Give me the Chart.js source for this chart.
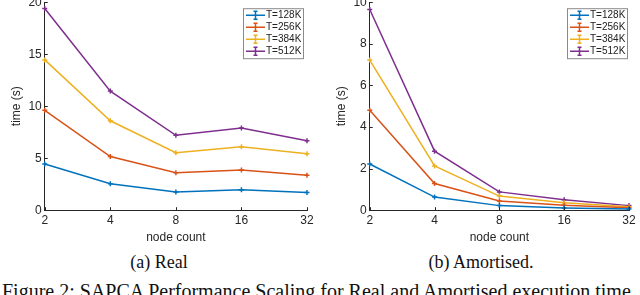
<!DOCTYPE html>
<html>
<head>
<meta charset="utf-8">
<script src="https://cdn.jsdelivr.net/npm/chart.js@4.4.0/dist/chart.umd.min.js"></script>
<style>
  body { margin: 0; width: 640px; height: 295px; overflow: hidden; background: #fff; position: relative; }
  .box { position: absolute; }
  .cap { position: absolute; font-family: "Liberation Serif", serif; font-size: 18px; color: #111; white-space: nowrap; }
</style>
</head>
<body>
<div class="box" style="left:0;top:-8px;width:320px;height:253px"><canvas id="chartA"></canvas></div>
<div class="box" style="left:320px;top:-8px;width:320px;height:253px"><canvas id="chartB"></canvas></div>
<div class="cap" style="left:0;width:318px;top:252px;text-align:center">(a) Real</div>
<div class="cap" style="left:320px;width:322px;top:252px;text-align:center">(b) Amortised.</div>
<div class="cap" style="left:2px;top:280px;font-size:20px">Figure 2: SAPCA Performance Scaling for Real and Amortised execution time</div>
<script>
const nodeCounts = ["2", "4", "8", "16", "32"];
const seriesNames = ["T=128K", "T=256K", "T=384K", "T=512K"];
const seriesColors = ["#0072BD", "#D95319", "#EDB120", "#7E2F8E"];

/* real time (s) */
const real128 = [4.45, 2.55, 1.76, 1.96, 1.70];
const real256 = [9.6, 5.16, 3.6, 3.86, 3.37];
const real384 = [14.45, 8.6, 5.52, 6.1, 5.42];
const real512 = [19.4, 11.45, 7.2, 7.9, 6.67];

/* amortised time (s) */
const amort128 = [2.22, 0.63, 0.22, 0.11, 0.06];
const amort256 = [4.8, 1.28, 0.44, 0.24, 0.12];
const amort384 = [7.22, 2.13, 0.68, 0.36, 0.16];
const amort512 = [9.65, 2.84, 0.88, 0.5, 0.22];

const axisColor = "#262626";
const tickFont = { family: "Liberation Sans, Arial, sans-serif", size: 12 };

/* matlab style inward tick marks */
const innerTicks = {
  id: "innerTicks",
  afterDraw(chart) {
    const ctx = chart.ctx;
    const xs = chart.scales.x, ys = chart.scales.y;
    const area = chart.chartArea;
    ctx.save();
    ctx.strokeStyle = axisColor;
    ctx.lineWidth = 1;
    ctx.beginPath();
    xs.ticks.forEach((t, i) => {
      const px = Math.round(xs.getPixelForTick(i)) + 0.5;
      ctx.moveTo(px, area.bottom);
      ctx.lineTo(px, area.bottom - 3);
    });
    ys.ticks.forEach((t, i) => {
      const py = Math.round(ys.getPixelForTick(i)) + 0.5;
      ctx.moveTo(area.left, py);
      ctx.lineTo(area.left + 3, py);
    });
    ctx.stroke();
    ctx.restore();
  }
};

/* legend box drawn inside the plot area, top right */
const boxLegend = {
  id: "boxLegend",
  afterDraw(chart) {
    const ctx = chart.ctx;
    const area = chart.chartArea;
    const w = 60, h = 50, rowH = 12;
    const x = area.right - w - 4 + chart.options.legendShift;
    const y = area.top + 6;
    ctx.save();
    ctx.fillStyle = "#fff";
    ctx.fillRect(x, y, w, h);
    ctx.strokeStyle = "#8a8a8a";
    ctx.lineWidth = 1;
    ctx.strokeRect(x + 0.5, y + 0.5, w, h);
    ctx.font = "10px Liberation Sans, Arial, sans-serif";
    ctx.textBaseline = "middle";
    chart.data.datasets.forEach((ds, i) => {
      const cy = y + 7 + i * rowH;
      ctx.strokeStyle = ds.borderColor;
      ctx.lineWidth = 1.5;
      ctx.beginPath();
      ctx.moveTo(x + 3, cy);
      ctx.lineTo(x + 22, cy);
      ctx.moveTo(x + 12.5, cy - 4);
      ctx.lineTo(x + 12.5, cy + 4);
      ctx.moveTo(x + 10.5, cy - 4);
      ctx.lineTo(x + 14.5, cy - 4);
      ctx.moveTo(x + 10.5, cy + 4);
      ctx.lineTo(x + 14.5, cy + 4);
      ctx.stroke();
      ctx.fillStyle = "#222";
      ctx.fillText(ds.label, x + 23, cy + 0.5);
    });
    ctx.restore();
  }
};

function makeChart(id, seriesData, yMax, yStep, padLeft, padRight, legendShift) {
  const datasets = seriesData.map((vals, i) => ({
    label: seriesNames[i],
    data: vals,
    borderColor: seriesColors[i],
    backgroundColor: seriesColors[i],
    borderWidth: 1.5,
    pointStyle: "cross",
    pointRadius: 2.5,
    pointBorderWidth: 1.5,
    tension: 0
  }));
  return new Chart(document.getElementById(id), {
    type: "line",
    data: { labels: nodeCounts, datasets: datasets },
    options: {
      responsive: true,
      maintainAspectRatio: false,
      animation: false,
      legendShift: legendShift,
      layout: { padding: { top: 0, right: padRight, left: padLeft, bottom: 0 } },
      plugins: { legend: { display: false }, tooltip: { enabled: false } },
      scales: {
        x: {
          offset: false,
          grid: { display: false, drawTicks: false, tickLength: 0 },
          border: { display: true, color: axisColor, width: 1 },
          ticks: { color: axisColor, font: tickFont, padding: 3, maxRotation: 0 },
          title: { display: true, text: "node count", color: axisColor, font: tickFont, padding: { top: 0, bottom: 0 } }
        },
        y: {
          min: 0,
          max: yMax,
          grid: { display: false, drawTicks: false, tickLength: 0 },
          border: { display: true, color: axisColor, width: 1 },
          ticks: { stepSize: yStep, color: axisColor, font: tickFont, padding: 3 },
          title: { display: true, text: "time (s)", color: axisColor, font: tickFont, padding: { top: 0, bottom: 2 } }
        }
      }
    },
    plugins: [innerTicks, boxLegend]
  });
}

makeChart("chartA", [real128, real256, real384, real512], 20, 5, 9, 13, 0);
makeChart("chartB", [amort128, amort256, amort384, amort512], 10, 2, 14, 11, 2);
</script>
</body>
</html>
